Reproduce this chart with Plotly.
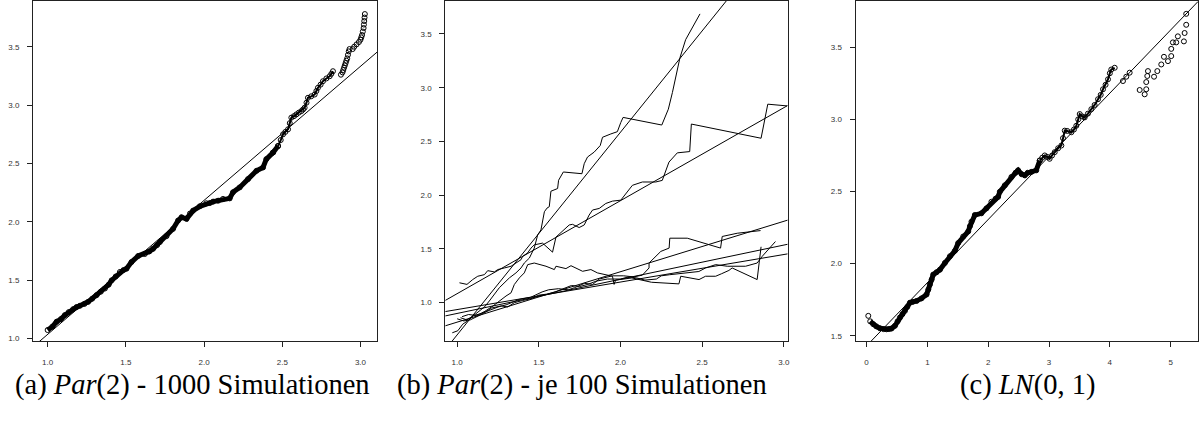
import plotly.graph_objects as go

# ---------------- Panel (a): Par(2) - 1000 Simulationen ----------------
a_dense_x = [1.000, 1.030, 1.057, 1.085, 1.110, 1.135, 1.163, 1.185, 1.206, 1.235, 1.259, 1.285,
             1.313, 1.340, 1.366, 1.390, 1.409, 1.435, 1.462, 1.485, 1.504, 1.536, 1.579, 1.621,
             1.650, 1.674, 1.700, 1.717, 1.760, 1.802, 1.834, 1.856, 1.888, 1.910, 1.930, 1.973,
             2.015, 2.037, 2.058, 2.090, 2.121, 2.164, 2.185, 2.228, 2.281, 2.335, 2.377, 2.398,
             2.441, 2.473]
a_dense_y = [1.071, 1.100, 1.142, 1.165, 1.199, 1.225, 1.250, 1.268, 1.279, 1.295, 1.313, 1.340,
             1.370, 1.400, 1.427, 1.460, 1.497, 1.530, 1.569, 1.585, 1.597, 1.654, 1.706, 1.723,
             1.745, 1.768, 1.800, 1.825, 1.876, 1.939, 2.010, 2.038, 2.024, 2.070, 2.095, 2.132,
             2.158, 2.160, 2.172, 2.180, 2.195, 2.200, 2.252, 2.294, 2.365, 2.436, 2.465, 2.536,
             2.593, 2.649]
a_chain_x = [2.441, 2.473, 2.490, 2.505, 2.520, 2.537, 2.548, 2.558, 2.575, 2.590, 2.606, 2.622,
             2.633, 2.643, 2.655, 2.664, 2.685, 2.707, 2.718, 2.728, 2.745, 2.760, 2.782, 2.803,
             2.814, 2.824]
a_chain_y = [2.593, 2.649, 2.700, 2.749, 2.770, 2.792, 2.845, 2.892, 2.905, 2.920, 2.935, 2.948,
             2.962, 2.977, 3.020, 3.062, 3.075, 3.090, 3.120, 3.148, 3.175, 3.204, 3.228, 3.247,
             3.268, 3.290]
a_tail_x = [2.875, 2.885, 2.890, 2.895, 2.900, 2.905, 2.910, 2.915, 2.920, 2.925, 2.930, 2.950,
            2.960, 2.975, 2.990, 3.000, 3.005, 3.010, 3.015, 3.020, 3.022, 3.024, 3.026, 3.028]
a_tail_y = [3.260, 3.280, 3.300, 3.320, 3.340, 3.360, 3.380, 3.400, 3.430, 3.460, 3.480, 3.480,
            3.500, 3.520, 3.540, 3.560, 3.580, 3.600, 3.630, 3.660, 3.690, 3.720, 3.750, 3.780]
a_fit = (-0.115, 1.149)          # intercept, slope
a_xticks = [1.0, 1.5, 2.0, 2.5, 3.0]
a_yticks = [1.0, 1.5, 2.0, 2.5, 3.0, 3.5]

# ---------------- Panel (b): Par(2) - je 100 Simulationen ----------------
b_c1_x = [0.970, 1.004, 1.034, 1.065, 1.100, 1.136, 1.167, 1.197, 1.228, 1.258, 1.299, 1.320,
          1.360, 1.391, 1.411, 1.442, 1.472, 1.483, 1.493, 1.513, 1.524, 1.534, 1.550, 1.564,
          1.574, 1.615, 1.621, 1.650, 1.764, 1.778, 1.798, 1.839, 1.876, 1.890, 1.941, 1.981,
          2.002, 2.016, 2.253, 2.293, 2.318, 2.342, 2.364, 2.399, 2.487]
b_c1_y = [0.720, 0.739, 0.800, 0.831, 0.880, 0.923, 0.960, 1.016, 1.077, 1.139, 1.200, 1.231,
          1.277, 1.323, 1.369, 1.415, 1.508, 1.569, 1.631, 1.677, 1.754, 1.846, 1.880, 1.893,
          2.037, 2.062, 2.139, 2.216, 2.200, 2.293, 2.355, 2.401, 2.462, 2.539, 2.570, 2.591,
          2.677, 2.724, 2.653, 2.800, 2.955, 3.139, 3.278, 3.447, 3.687]
b_c2_x = [1.014, 1.045, 1.060, 1.095, 1.126, 1.167, 1.187, 1.228, 1.248, 1.289, 1.330, 1.360,
          1.391, 1.401, 1.431, 1.452, 1.472, 1.523, 1.584, 1.605, 1.645, 1.686, 1.706, 1.747,
          1.778, 1.808, 1.829, 1.870, 1.910, 1.951, 2.002, 2.043, 2.073, 2.134, 2.216, 2.256,
          2.277, 2.297, 2.348, 2.424, 2.434, 2.861, 2.902, 3.020]
b_c2_y = [1.185, 1.175, 1.170, 1.215, 1.246, 1.261, 1.298, 1.286, 1.308, 1.323, 1.339, 1.369,
          1.400, 1.431, 1.462, 1.508, 1.538, 1.554, 1.470, 1.610, 1.662, 1.723, 1.729, 1.699,
          1.723, 1.815, 1.862, 1.877, 1.923, 1.945, 1.954, 2.031, 2.092, 2.123, 2.123, 2.138,
          2.216, 2.308, 2.394, 2.406, 2.662, 2.530, 2.847, 2.831]
b_c3_x = [1.020, 1.060, 1.100, 1.150, 1.200, 1.250, 1.300, 1.330, 1.380, 1.450, 1.520, 1.560,
          1.620, 1.680, 1.720, 1.780, 1.830, 1.870, 1.950, 2.020, 2.080, 2.134, 2.175, 2.175,
          2.247, 2.298, 2.302, 2.409, 2.542, 2.613, 2.623, 2.715, 2.858]
b_c3_y = [0.860, 0.840, 0.880, 0.900, 0.930, 0.960, 0.980, 1.000, 1.030, 1.050, 1.100, 1.120,
          1.130, 1.120, 1.140, 1.180, 1.170, 1.220, 1.250, 1.250, 1.240, 1.256, 1.323, 1.369,
          1.477, 1.508, 1.600, 1.600, 1.539, 1.508, 1.616, 1.646, 1.671]
b_c4_x = [1.030, 1.070, 1.120, 1.170, 1.220, 1.258, 1.299, 1.330, 1.350, 1.381, 1.411, 1.432,
          1.472, 1.544, 1.595, 1.605, 1.666, 1.697, 1.768, 1.819, 1.859, 1.951, 1.961, 1.970,
          2.070, 2.190, 2.358, 2.369, 2.481, 2.521, 2.583, 2.620, 2.664, 2.684, 2.837, 2.861]
b_c4_y = [0.870, 0.890, 0.880, 0.920, 0.970, 1.016, 1.062, 1.092, 1.169, 1.231, 1.277, 1.354,
          1.369, 1.339, 1.308, 1.339, 1.317, 1.344, 1.292, 1.308, 1.277, 1.246, 1.170, 1.210,
          1.230, 1.190, 1.175, 1.246, 1.215, 1.246, 1.246, 1.270, 1.300, 1.323, 1.215, 1.520]
b_c5_x = [1.000, 1.040, 1.080, 1.120, 1.160, 1.210, 1.270, 1.310, 1.350, 1.400, 1.460, 1.500,
          1.550, 1.600, 1.650, 1.700, 1.750, 1.800, 1.850, 1.920, 2.000, 2.050, 2.100, 2.150,
          2.220, 2.250, 2.300, 2.350, 2.420, 2.480, 2.521, 2.583, 2.654, 2.766, 2.837, 2.868,
          2.949]
b_c5_y = [0.850, 0.830, 0.840, 0.870, 0.900, 0.950, 0.970, 0.960, 1.000, 1.020, 1.040, 1.070,
          1.080, 1.100, 1.130, 1.160, 1.150, 1.170, 1.200, 1.220, 1.220, 1.240, 1.230, 1.210,
          1.220, 1.250, 1.260, 1.270, 1.280, 1.290, 1.323, 1.354, 1.339, 1.339, 1.369, 1.431,
          1.569]
b_fits = [(-1.184, 1.885), (0.219, 0.865), (0.350, 0.469), (0.582, 0.318), (0.680, 0.256)]
b_xticks = [1.0, 1.5, 2.0, 2.5, 3.0]
b_yticks = [1.0, 1.5, 2.0, 2.5, 3.0, 3.5]

# ---------------- Panel (c): LN(0,1) ----------------
c_dense_x = [0.060, 0.110, 0.160, 0.220, 0.280, 0.329, 0.370, 0.410, 0.466, 0.510, 0.548, 0.590,
             0.630, 0.670, 0.713, 0.760, 0.821, 0.903, 0.986, 1.015, 1.041, 1.070, 1.096, 1.150,
             1.206, 1.288, 1.370, 1.452, 1.506, 1.589, 1.671, 1.700, 1.725, 1.780, 1.889, 1.971,
             2.053, 2.120, 2.163, 2.191, 2.273, 2.382, 2.450, 2.492, 2.550, 2.602, 2.650, 2.710,
             2.790, 2.848]
c_dense_y = [1.600, 1.580, 1.565, 1.552, 1.546, 1.545, 1.547, 1.550, 1.569, 1.600, 1.626, 1.650,
             1.672, 1.700, 1.729, 1.735, 1.741, 1.759, 1.786, 1.820, 1.855, 1.890, 1.924, 1.940,
             1.958, 2.005, 2.051, 2.089, 2.142, 2.188, 2.223, 2.260, 2.291, 2.337, 2.349, 2.383,
             2.429, 2.450, 2.463, 2.498, 2.543, 2.601, 2.630, 2.647, 2.620, 2.612, 2.630, 2.636,
             2.647, 2.715]
c_chain_x = [2.848, 2.890, 2.930, 2.970, 3.010, 3.050, 3.094, 3.150, 3.203, 3.230, 3.259, 3.300,
             3.367, 3.410, 3.449, 3.480, 3.505, 3.550, 3.587, 3.640, 3.696, 3.750, 3.806, 3.850,
             3.888, 3.930, 3.970, 4.000, 4.024, 4.080]
c_chain_y = [2.715, 2.735, 2.750, 2.740, 2.727, 2.750, 2.773, 2.800, 2.819, 2.870, 2.922, 2.920,
             2.911, 2.930, 2.956, 3.000, 3.037, 3.020, 3.014, 3.040, 3.071, 3.100, 3.140, 3.170,
             3.209, 3.240, 3.278, 3.320, 3.346, 3.358]
c_tail_x = [0.028, 4.216, 4.271, 4.326, 4.491, 4.573, 4.599, 4.599, 4.616, 4.627, 4.727, 4.781,
            4.846, 4.890, 4.956, 5.010, 5.010, 5.037, 5.092, 5.119, 5.218, 5.230, 5.256, 5.256]
c_tail_y = [1.638, 3.266, 3.296, 3.324, 3.204, 3.174, 3.209, 3.259, 3.301, 3.335, 3.296, 3.335,
            3.381, 3.434, 3.404, 3.439, 3.489, 3.534, 3.534, 3.576, 3.541, 3.599, 3.656, 3.732]
c_fit = (1.430, 0.438)
c_xticks = [0, 1, 2, 3, 4, 5]
c_yticks = [1.5, 2.0, 2.5, 3.0, 3.5]

captions = ["(a) <i>Par</i>(2) - 1000 Simulationen",
            "(b) <i>Par</i>(2) - je 100 Simulationen",
            "(c) <i>LN</i>(0, 1)"]

# ---------------- layout geometry ----------------
W, H = 1202, 421
ranges = {
    "a": ([0.906, 3.108], [0.974, 3.892]),
    "b": ([0.927, 3.024], [0.640, 3.807]),
    "c": ([-0.181, 5.450], [1.461, 3.821]),
}
xdom = {"a": [33 / W, 378 / W], "b": [446 / W, 789 / W], "c": [857 / W, 1200 / W]}
ydom = [1 - 343 / H, 1 - 1 / H]
axn = {"a": ("x", "y"), "b": ("x2", "y2"), "c": ("x3", "y3")}

fig = go.Figure()
BLACK = "#000000"


def circles(x, y, ax):
    return go.Scatter(x=x, y=y, mode="markers", xaxis=ax[0], yaxis=ax[1],
                      marker=dict(symbol="circle-open", size=5, color=BLACK,
                                  line=dict(width=1, color=BLACK)),
                      showlegend=False, hoverinfo="skip")


def band(x, y, ax, w):
    return go.Scatter(x=x, y=y, mode="lines", xaxis=ax[0], yaxis=ax[1],
                      line=dict(color=BLACK, width=w), showlegend=False, hoverinfo="skip")


def fitline(fit, key):
    xr = ranges[key][0]
    b0, b1 = fit
    return go.Scatter(x=xr, y=[b0 + b1 * xr[0], b0 + b1 * xr[1]], mode="lines",
                      xaxis=axn[key][0], yaxis=axn[key][1],
                      line=dict(color=BLACK, width=1), showlegend=False, hoverinfo="skip")


# panel a
fig.add_trace(fitline(a_fit, "a"))
fig.add_trace(band(a_dense_x, a_dense_y, axn["a"], 5))
fig.add_trace(band(a_chain_x, a_chain_y, axn["a"], 2))
fig.add_trace(circles(a_dense_x + a_chain_x, a_dense_y + a_chain_y, axn["a"]))
fig.add_trace(circles(a_tail_x, a_tail_y, axn["a"]))

# panel b
for f in b_fits:
    fig.add_trace(fitline(f, "b"))
for cx, cy in [(b_c1_x, b_c1_y), (b_c2_x, b_c2_y), (b_c3_x, b_c3_y),
               (b_c4_x, b_c4_y), (b_c5_x, b_c5_y)]:
    fig.add_trace(band(cx, cy, axn["b"], 1))

# panel c
fig.add_trace(fitline(c_fit, "c"))
fig.add_trace(band(c_dense_x, c_dense_y, axn["c"], 5))
fig.add_trace(band(c_chain_x, c_chain_y, axn["c"], 2))
fig.add_trace(circles(c_dense_x + c_chain_x, c_dense_y + c_chain_y, axn["c"]))
fig.add_trace(circles(c_tail_x, c_tail_y, axn["c"]))

tickfont = dict(family='"Liberation Sans", Arial, sans-serif', size=8, color="#333333")
axis_common = dict(showgrid=False, zeroline=False, showline=True, linecolor="#222222",
                   linewidth=1, mirror=True, ticks="outside", ticklen=5, tickwidth=1,
                   tickcolor="#222222", tickfont=tickfont)

ticks = {"a": (a_xticks, a_yticks), "b": (b_xticks, b_yticks), "c": (c_xticks, c_yticks)}
lay = {}
for key, (xn, yn) in axn.items():
    xname = "xaxis" + xn[1:]
    yname = "yaxis" + yn[1:]
    xt, yt = ticks[key]
    lay[xname] = dict(axis_common, domain=xdom[key], range=ranges[key][0], anchor=yn,
                      tickvals=xt, ticktext=[(f"{v:.1f}" if key != "c" else str(v)) for v in xt],
                      ticklabelstandoff=8)
    lay[yname] = dict(axis_common, domain=ydom, range=ranges[key][1], anchor=xn,
                      tickvals=yt, ticktext=[f"{v:.1f}" for v in yt],
                      ticklabelstandoff=6)

cap_x = [193 / W, 583 / W, 1029 / W]
annotations = [dict(text=t, x=cx, y=1 - 387 / H, xref="paper", yref="paper",
                    xanchor="center", yanchor="middle", showarrow=False,
                    font=dict(family='"Liberation Serif", "Times New Roman", serif', size=28.5,
                              color="#000000"))
               for t, cx in zip(captions, cap_x)]

fig.update_layout(width=W, height=H, margin=dict(l=0, r=0, t=0, b=0),
                  paper_bgcolor="white", plot_bgcolor="white",
                  annotations=annotations, **lay)

fig.write_html("out.html")
